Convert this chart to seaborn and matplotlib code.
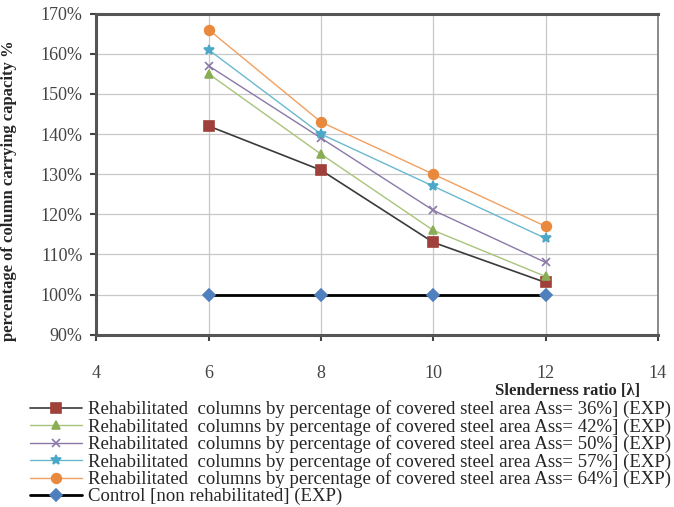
import pandas as pd
import seaborn as sns
import matplotlib.pyplot as plt
from matplotlib.ticker import PercentFormatter

# Slenderness ratio values and capacity percentages
slenderness = [6, 8, 10, 12]
ass_36 = [142, 131, 113, 103]
ass_42 = [155, 135, 116, 104.5]
ass_50 = [157, 139, 121, 108]
ass_57 = [161, 140, 127, 114]
ass_64 = [166, 143, 130, 117]
control = [100, 100, 100, 100]

labels = [
    'Rehabilitated  columns by percentage of covered steel area Ass= 36%] (EXP)',
    'Rehabilitated  columns by percentage of covered steel area Ass= 42%] (EXP)',
    'Rehabilitated  columns by percentage of covered steel area Ass= 50%] (EXP)',
    'Rehabilitated  columns by percentage of covered steel area Ass= 57%] (EXP)',
    'Rehabilitated  columns by percentage of covered steel area Ass= 64%] (EXP)',
    'Control [non rehabilitated] (EXP)',
]
series = [ass_36, ass_42, ass_50, ass_57, ass_64, control]

# line colour, marker colour, marker, marker size, line width
styles = [
    ('#3a3a3a', '#a0403a', 's', 7, 1.2),
    ('#a8c47a', '#8aae55', '^', 6, 1.0),
    ('#8a78a8', '#8a78a8', 'x', 6, 1.0),
    ('#6ab8d0', '#4ba8c6', '*', 7, 1.0),
    ('#f0a060', '#e8893e', 'o', 7, 1.0),
    ('#000000', '#4f7fbd', 'D', 6, 2.0),
]

df = pd.DataFrame({'x': slenderness * len(series),
                   'y': [v for s in series for v in s],
                   'series': [lab for lab in labels for _ in slenderness]})

sns.set_style('white')
plt.rcParams['font.family'] = ['Liberation Serif', 'DejaVu Serif']

fig = plt.figure(figsize=(6.74, 5.07), dpi=100)
ax = fig.add_axes([0.143, 0.34, 0.833, 0.633])

for lab, (lc, mc, mk, ms, lw) in zip(labels, styles):
    sns.lineplot(data=df[df['series'] == lab], x='x', y='y', ax=ax, label=lab,
                 color=lc, marker=mk, markersize=ms, linewidth=lw,
                 markerfacecolor=mc, markeredgecolor=mc, markeredgewidth=1.2)

ax.set_xlim(4, 14)
ax.set_ylim(90, 170)
ax.set_xticks([4, 6, 8, 10, 12, 14])
ax.set_yticks(range(90, 171, 10))
ax.yaxis.set_major_formatter(PercentFormatter(decimals=0))
ax.grid(True, color='#c8c8c8', linewidth=0.9)
ax.tick_params(axis='both', labelsize=13, colors='#444444', direction='out',
               length=4, width=1.5, left=True, bottom=True)
ax.tick_params(axis='x', pad=18)
ax.tick_params(axis='y', pad=6)
for side in ['left', 'bottom', 'top']:
    ax.spines[side].set_color('#555555')
    ax.spines[side].set_linewidth(2.2)
ax.spines['right'].set_color('#777777')
ax.spines['right'].set_linewidth(1.2)

ax.set_xlabel('Slenderness ratio [λ]', fontsize=12, fontweight='bold')
ax.xaxis.set_label_coords(0.84, -0.15)
ax.set_ylabel('percentage of column carrying capacity %', fontsize=12, fontweight='bold')
ax.yaxis.set_label_coords(-0.142, 0.45)

ax.legend(loc='upper left', bbox_to_anchor=(-0.132, -0.181), frameon=False,
          fontsize=13.5, handlelength=2.8, labelspacing=-0.02, borderaxespad=0,
          handletextpad=0.3)

fig.savefig('out.png', dpi=100)
